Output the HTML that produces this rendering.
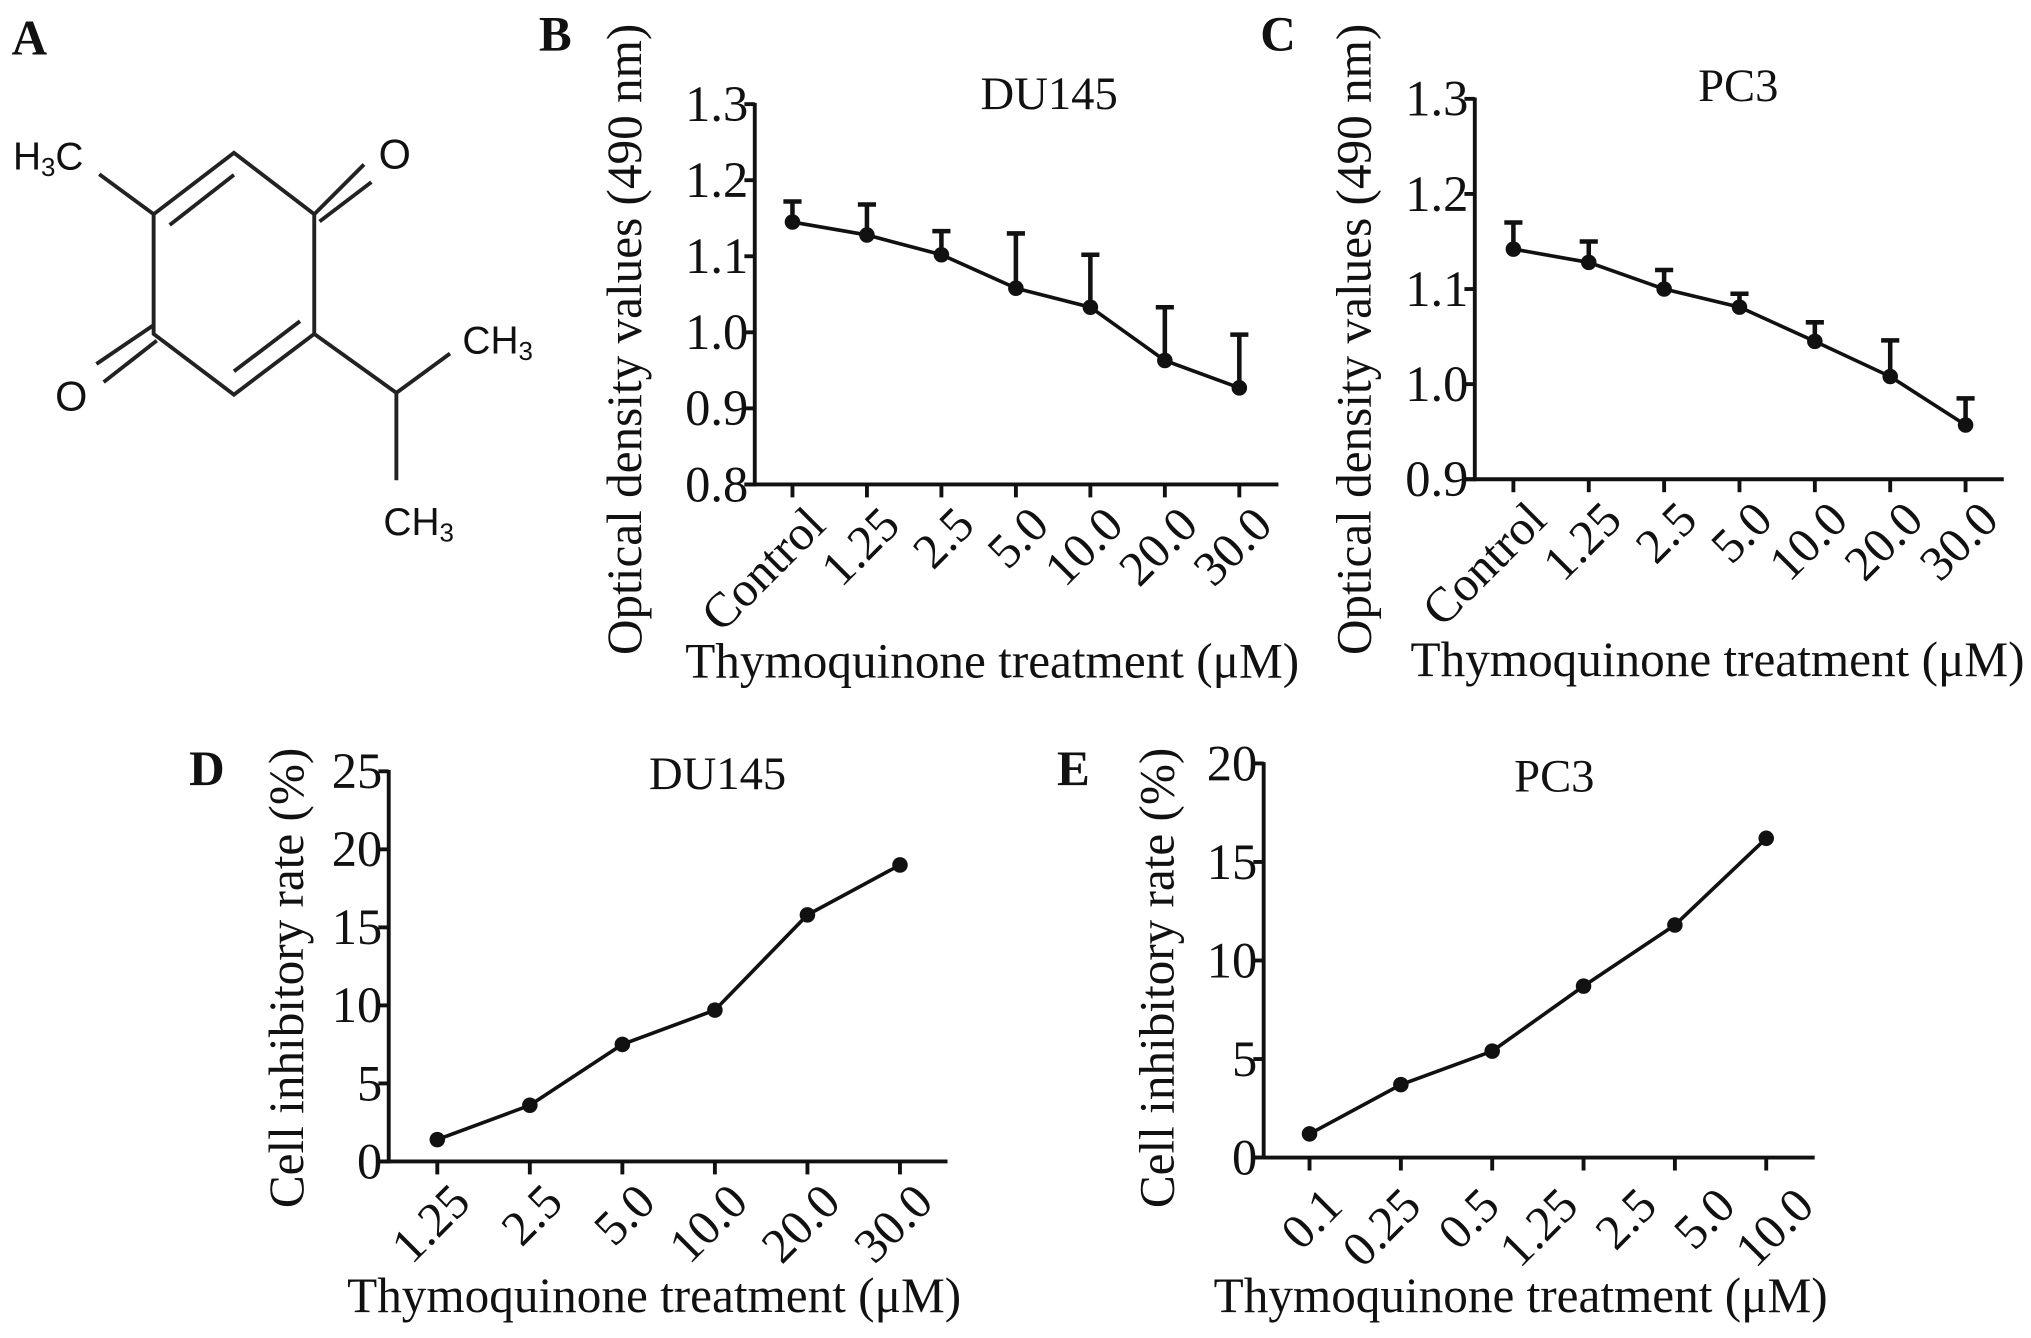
<!DOCTYPE html>
<html><head><meta charset="utf-8"><style>
html,body{margin:0;padding:0;background:#fff;}
svg{display:block;}
text{font-family:"Liberation Serif",serif;fill:#111;}
.sans{font-family:"Liberation Sans",sans-serif;}
</style></head><body>
<svg id="fig" width="2031" height="1338" viewBox="0 0 1568 1033" xmlns="http://www.w3.org/2000/svg">
<g stroke="#222" stroke-width="3" fill="none">
<polygon points="118.6,165.4 180.6,118 242.6,165.4 242.6,257.8 180.6,304.7 118.6,257.8"/>
<line x1="76.6" y1="134.5" x2="118.6" y2="165.4"/>
<line x1="131" y1="173.7" x2="180.6" y2="135"/>
<line x1="180.6" y1="286.7" x2="231.6" y2="248"/>
<line x1="242.6" y1="165.4" x2="281" y2="127"/>
<line x1="246.7" y1="171" x2="286.7" y2="140.6"/>
<line x1="118.6" y1="251" x2="74.4" y2="281"/>
<line x1="121" y1="263" x2="80" y2="295"/>
<polyline points="242.6,257.8 306,303.3 347.4,273"/>
<line x1="306" y1="303.3" x2="306" y2="370.8"/>
</g>
<text class="sans" x="10" y="131" font-size="30">H<tspan font-size="20" dy="5">3</tspan><tspan dy="-5">C</tspan></text>
<text class="sans" x="304.7" y="130" font-size="32" text-anchor="middle">O</text>
<text class="sans" x="55" y="317" font-size="32" text-anchor="middle">O</text>
<text class="sans" x="357" y="273" font-size="30">CH<tspan font-size="20" dy="5">3</tspan></text>
<text class="sans" x="296" y="413" font-size="30">CH<tspan font-size="20" dy="5">3</tspan></text>
<text x="9" y="42" font-size="38" font-weight="bold">A</text>
<text x="416" y="39" font-size="38" font-weight="bold">B</text>
<text x="973" y="39" font-size="38" font-weight="bold">C</text>
<text x="146" y="606" font-size="38" font-weight="bold">D</text>
<text x="816" y="606" font-size="38" font-weight="bold">E</text>
</svg>
<script>
// Panel B data (DU145 OD)
const bCats = ["Control","1.25","2.5","5.0","10.0","20.0","30.0"];
const bVals = [1.145,1.128,1.102,1.058,1.033,0.963,0.927];
const bErr = [0.027,0.040,0.031,0.072,0.069,0.070,0.070];
const bTicks = [0.8,0.9,1.0,1.1,1.2,1.3];
// Panel C data (PC3 OD)
const cCats = ["Control","1.25","2.5","5.0","10.0","20.0","30.0"];
const cVals = [1.142,1.128,1.100,1.081,1.045,1.008,0.957];
const cErr = [0.028,0.022,0.020,0.014,0.020,0.038,0.028];
const cTicks = [0.9,1.0,1.1,1.2,1.3];
// Panel D data (DU145 inhibitory rate)
const dCats = ["1.25","2.5","5.0","10.0","20.0","30.0"];
const dVals = [1.4,3.6,7.5,9.7,15.8,19.0];
const dTicks = [0,5,10,15,20,25];
// Panel E data (PC3 inhibitory rate)
const eCats = ["0.1","0.25","0.5","1.25","2.5","5.0","10.0"];
const eVals = [1.2,3.7,5.4,8.7,11.8,16.2];
const eTicks = [0,5,10,15,20];

const NS="http://www.w3.org/2000/svg";
const svg=document.getElementById('fig');
function mk(tag,attrs,parent){const e=document.createElementNS(NS,tag);for(const k in attrs)e.setAttribute(k,attrs[k]);(parent||svg).appendChild(e);return e;}

function panel(cfg){
  const g=mk('g',{});
  
  
  const yS=v=>cfg.y0+(v-cfg.tmin)/(cfg.tmax-cfg.tmin)*(cfg.y1-cfg.y0);
  const n=cfg.nPts;
  const xS=i=>cfg.xa+i*(cfg.xb-cfg.xa)/(n-1);
  const yax=mk('line',{x1:cfg.ax,y1:cfg.y1-1,x2:cfg.ax,y2:cfg.y0+1.5,stroke:'#111','stroke-width':3},g);
  
  
  const xax=mk('line',{x1:cfg.ax-8,y1:cfg.y0,x2:cfg.axEnd,y2:cfg.y0,stroke:'#111','stroke-width':3},g);
  
  
  cfg.ticks.forEach(t=>{
    const y=yS(t);
    const tl=mk('line',{x1:cfg.ax-8,y1:y,x2:cfg.ax,y2:y,stroke:'#111','stroke-width':3},g);
    
    
    const tx=mk('text',{x:cfg.ax-5,y:y+13,'font-size':39,'text-anchor':'end'},g);
    tx.textContent=cfg.fmt(t);
    
    
  });
  for(let i=0;i<n;i++){
    const tl=mk('line',{x1:xS(i),y1:cfg.y0,x2:xS(i),y2:cfg.y0+10,stroke:'#111','stroke-width':3},g);
    
    
  }
  const nl=cfg.cats.length;
  cfg.cats.forEach((c,i)=>{
    const lx=nl===n? xS(i)+8 : cfg.la+i*(cfg.lb-cfg.la)/(nl-1);
    const ly=cfg.y0+cfg.lOff;
    const tx=mk('text',{x:0,y:0,'font-size':38,'text-anchor':'end','dominant-baseline':'hanging',transform:`translate(${lx},${ly}) rotate(-45)`},g);
    tx.textContent=c;
    
    
  });
  if(cfg.err){
    cfg.vals.forEach((v,i)=>{
      const top=yS(v+cfg.err[i]);
      const eb=mk('path',{d:`M${xS(i)},${yS(v)}V${top}M${xS(i)-7},${top}H${xS(i)+7}`,stroke:'#111','stroke-width':3.5,fill:'none'},g);
      
      
    });
  }
  const pts=cfg.vals.map((v,i)=>xS(i)+','+yS(v)).join(' ');
  const pl=mk('polyline',{points:pts,fill:'none',stroke:'#111','stroke-width':2.8},g);
  
  
  cfg.vals.forEach((v,i)=>{
    const c=mk('circle',{cx:xS(i),cy:yS(v),r:6,fill:'#111'},g);
    
    
  });
  const t=mk('text',{x:cfg.tx,y:cfg.ty,'font-size':36,'text-anchor':'middle'},g);
  t.textContent=cfg.title;
  
  
  const xt=mk('text',{x:cfg.xtx,y:cfg.xty,'font-size':38,'text-anchor':'middle'},g);
  xt.textContent='Thymoquinone treatment (\u03bcM)';
  
  
  const yt=mk('text',{x:0,y:0,'font-size':38,'text-anchor':'middle',transform:`translate(${cfg.ytx},${cfg.yty}) rotate(-90)`},g);
  yt.textContent=cfg.ylabel;
  
  
}
panel({name:'panel-b-chart',ax:582.7,axEnd:987,y0:374,y1:80.4,tmin:0.8,tmax:1.3,ticks:bTicks,fmt:t=>t.toFixed(1),
  nPts:7,xa:611.8,xb:956.8,cats:bCats,lOff:14,vals:bVals,err:bErr,title:'DU145',tx:810,ty:84,xtx:766,xty:523,
  ytx:495,yty:262,ylabel:'Optical density values (490 nm)'});
panel({name:'panel-c-chart',ax:1138.6,axEnd:1547,y0:370,y1:76.3,tmin:0.9,tmax:1.3,ticks:cTicks,fmt:t=>t.toFixed(1),
  nPts:7,xa:1168.4,xb:1517.5,cats:cCats,lOff:14,vals:cVals,err:cErr,title:'PC3',tx:1342,ty:78,xtx:1326,xty:522,
  ytx:1058,yty:262,ylabel:'Optical density values (490 nm)'});
panel({name:'panel-d-chart',ax:300.1,axEnd:731.5,y0:896.7,y1:595.5,tmin:0,tmax:25,ticks:dTicks,fmt:t=>String(t),
  nPts:6,xa:337.6,xb:694.8,cats:dCats,lOff:14,vals:dVals,err:null,title:'DU145',tx:554,ty:609,xtx:505,xty:1013,
  ytx:234,yty:755,ylabel:'Cell inhibitory rate (%)'});
panel({name:'panel-e-chart',ax:975.6,axEnd:1401,y0:893.7,y1:589.4,tmin:0,tmax:20,ticks:eTicks,fmt:t=>String(t),
  nPts:6,xa:1011,xb:1363.6,cats:eCats,la:1019,lb:1383,lOff:20,vals:eVals,err:null,title:'PC3',tx:1200,ty:611,xtx:1174,xty:1013,
  ytx:906,yty:755,ylabel:'Cell inhibitory rate (%)'});
</script>
</body></html>
